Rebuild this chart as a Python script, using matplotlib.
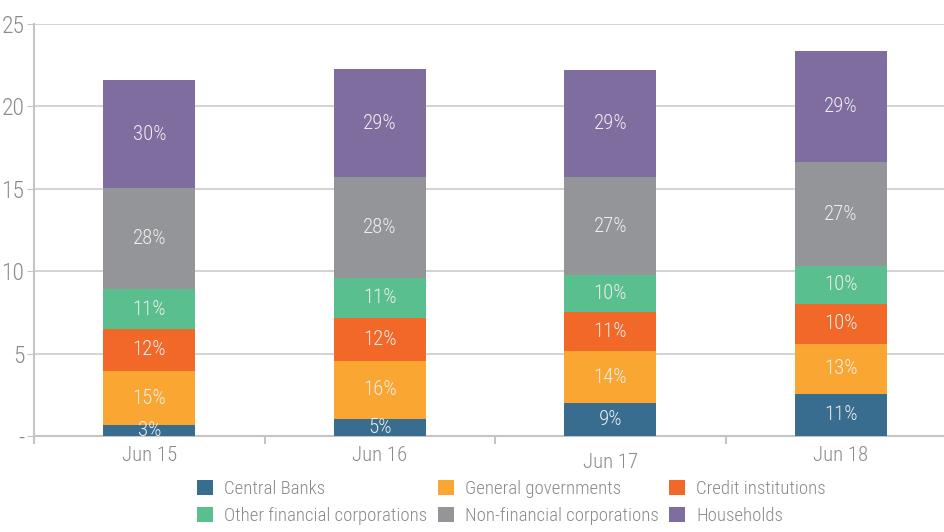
import matplotlib
matplotlib.use("Agg")
import matplotlib.pyplot as plt
from matplotlib import font_manager
from matplotlib.patches import Patch
from matplotlib.transforms import ScaledTranslation
import numpy as np

# ---------------------------------------------------------------------------
# data (EUR tn, stacked by holder sector)
# ---------------------------------------------------------------------------
periods = ["Jun 15", "Jun 16", "Jun 17", "Jun 18"]

central_banks = [0.65, 1.03, 2.00, 2.55]
general_governments = [3.30, 3.53, 3.15, 3.04]
credit_institutions = [2.57, 2.60, 2.35, 2.43]
other_financial = [2.37, 2.43, 2.25, 2.31]
non_financial = [6.14, 6.14, 5.95, 6.27]
households = [6.56, 6.51, 6.50, 6.74]

sector_names = ["Central Banks", "General governments", "Credit institutions",
                "Other financial corporations", "Non-financial corporations",
                "Households"]

y_ticks = [0, 5, 10, 15, 20, 25]
y_tick_labels = ["-", "5", "10", "15", "20", "25"]

# ---------------------------------------------------------------------------
# style
# ---------------------------------------------------------------------------
colors = ["#386d8f", "#f9a632", "#f26829", "#5abf8e", "#939598", "#7f6da0"]
TEXT_GREY = "#8a8a8a"
LINE_GREY = "#c4c4c4"

available = {f.name for f in font_manager.fontManager.ttflist}
FONT = "DejaVu Sans"
for name in ["Roboto Condensed", "Open Sans Condensed", "Liberation Sans Narrow"]:
    if name in available:
        FONT = name
        break
plt.rcParams["font.family"] = [FONT, "DejaVu Sans"]
plt.rcParams["font.weight"] = "light"

fig = plt.figure(figsize=(9.45, 5.32), dpi=100)
ax = fig.add_axes([34 / 945, 96 / 532, 911 / 945, 412 / 532])

series = [central_banks, general_governments, credit_institutions,
          other_financial, non_financial, households]
x = np.arange(len(periods))
totals = np.sum(series, axis=0)
bottom = np.zeros(len(periods))

for values, color, name in zip(series, colors, sector_names):
    values = np.asarray(values)
    ax.bar(x, values, width=0.4, bottom=bottom, color=color, label=name, zorder=3)
    for xi, b, v, t in zip(x, bottom, values, totals):
        pct = int(v / t * 100 + 0.5)
        ax.text(xi, b + v / 2, f"{pct}%", ha="center", va="center",
                color="#eeeeee", fontsize=15, zorder=4)
    bottom += values

# axes
ax.set_xlim(-0.5, 3.452)
ax.set_ylim(0, 25)
ax.set_yticks(y_ticks)
ax.set_yticklabels(y_tick_labels)
ax.yaxis.grid(True, color="#d0d0d0", linewidth=1.3)
ax.set_axisbelow(True)

for side in ["top", "right"]:
    ax.spines[side].set_visible(False)
for side in ["left", "bottom"]:
    ax.spines[side].set_color(LINE_GREY)
    ax.spines[side].set_linewidth(1.5)

ax.tick_params(axis="y", length=5, color=LINE_GREY, labelcolor=TEXT_GREY,
               labelsize=17, pad=2)
ax.set_xticks(x)
ax.set_xticklabels(periods)
ax.tick_params(axis="x", which="major", length=0, labelcolor=TEXT_GREY,
               labelsize=15, pad=7)
ax.set_xticks([-0.5, 0.5, 1.5, 2.5], minor=True)
ax.tick_params(axis="x", which="minor", length=6, width=1.5, color=LINE_GREY)

# the Jun 17 label sits a little lower
lbl = ax.get_xticklabels()[2]
lbl.set_transform(lbl.get_transform() + ScaledTranslation(0, -5 / 72, fig.dpi_scale_trans))

# legend: 3 columns, filled row by row
handles = [Patch(facecolor=c, edgecolor="none") for c in colors]
order = [0, 3, 1, 4, 2, 5]
fig.legend([handles[i] for i in order], [sector_names[i] for i in order],
           ncol=3, loc="upper left", bbox_to_anchor=(197 / 945, 1 - 480 / 532),
           frameon=False, borderpad=0, borderaxespad=0,
           handlelength=0.85, handleheight=0.85, handletextpad=0.6,
           columnspacing=0.55, labelspacing=0.5, fontsize=13.5,
           labelcolor=TEXT_GREY)

fig.savefig("out.png", dpi=100)
